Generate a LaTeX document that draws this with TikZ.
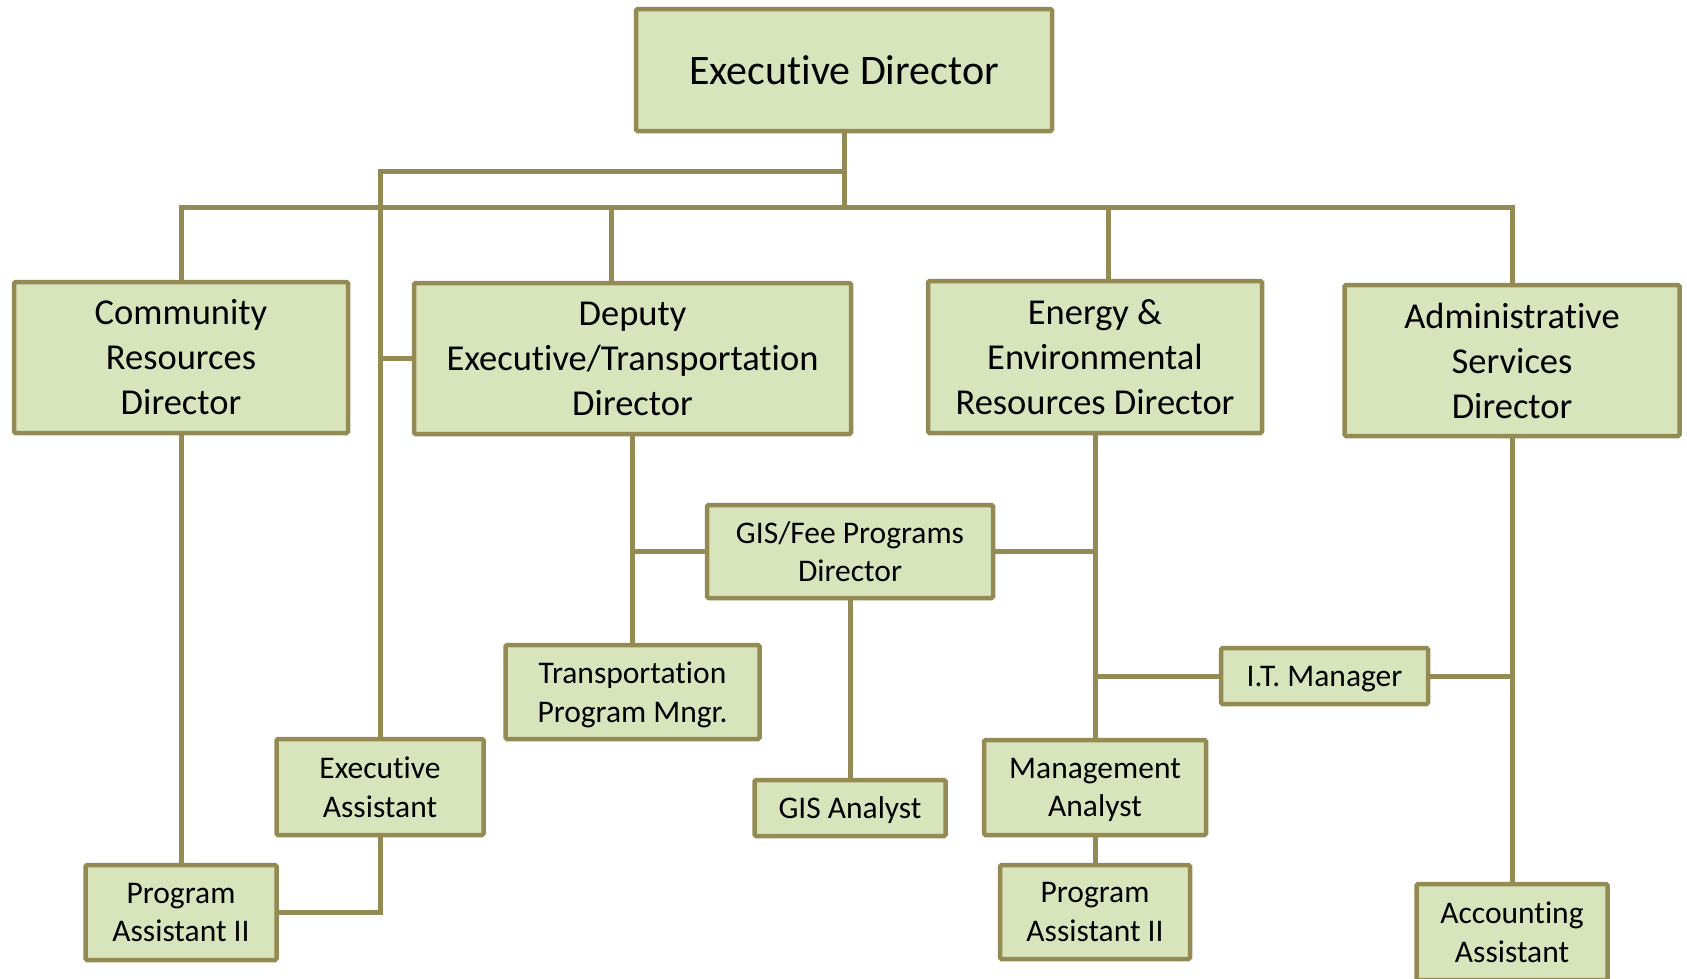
\documentclass[tikz,border=0pt]{standalone}
\usepackage{fontspec}
\setmainfont{Carlito}[Ligatures={NoCommon,NoRequired,NoContextual,NoRare}]
\usetikzlibrary{calc}
\definecolor{boxfill}{HTML}{D8E4BC}
\definecolor{olive}{HTML}{948A54}
% keep "t" and "i" as separate glyphs
\newcommand\tisep{t\kern0pt i}
\tikzset{
  unit/.style={draw=olive, fill=boxfill, line width=4.5pt, rounded corners=1.5pt,
    align=center, inner sep=0pt, text=black},
  top/.style={unit, font=\fontsize{42}{50}\selectfont},
  mid/.style={unit, font=\fontsize{36.5}{45}\selectfont},
  low/.style={unit, font=\fontsize{31.5}{38.5}\selectfont, text depth=0pt},
  link/.style={draw=olive, line width=5pt}
}
\begin{document}
\begin{tikzpicture}[x=1pt, y=-1pt]
\useasboundingbox (0,0) rectangle (1687,978);

% top level
\node[top, minimum width=416pt, minimum height=122pt] (ed) at (844,70) {Executive Director};

% directors
\node[mid, minimum width=334pt, minimum height=151pt] (crd) at (181,357.5) {Community\\Resources\\Director};
\node[mid, minimum width=437pt, minimum height=151pt] (dep) at (632.5,358.5) {Deputy\\Executive/Transporta\tisep on\\Director};
\node[mid, minimum width=334pt, minimum height=152pt] (eer) at (1095,357) {Energy \&\\Environmental\\Resources Director};
\node[mid, minimum width=335pt, minimum height=151pt] (asd) at (1512,360.5) {Administra\tisep ve\\Services\\Director};

% staff
\node[low, minimum width=286pt, minimum height=93pt] (gis) at (850,551.5) {GIS/Fee Programs\\Director};
\node[low, minimum width=254pt, minimum height=94pt] (tpm) at (632.5,692) {Transporta\tisep on\\Program Mngr.};
\node[low, minimum width=191pt, minimum height=56pt] (gisa) at (850,808) {GIS Analyst};
\node[low, minimum width=207pt, minimum height=96pt] (ea) at (380,787) {Executive\\Assistant};
\node[low, minimum width=191pt, minimum height=95pt] (pa1) at (181,912.5) {Program\\Assistant II};
\node[low, minimum width=222pt, minimum height=95pt] (ma) at (1095,787.5) {Management\\Analyst};
\node[low, minimum width=190pt, minimum height=94pt] (pa2) at (1095,912) {Program\\Assistant II};
\node[low, minimum width=207pt, minimum height=56pt] (itm) at (1324.5,676) {I.T. Manager};
\node[low, minimum width=191pt, minimum height=96pt] (acc) at (1512,932) {Accounting\\Assistant};

% junction points
\coordinate (bus) at (844,207);
\coordinate (eatap) at (380,171);
\coordinate (depstem) at (611,207);
\coordinate (eerstem) at (1108,207);

% connectors
\draw[link] (ed.south) -- (bus);
\draw[link] (crd.north) |- (asd.north |- bus) -- (asd.north);
\draw[link] (depstem) -- (depstem |- dep.north);
\draw[link] (eerstem) -- (eerstem |- eer.north);
\draw[link] (ed.south |- eatap) -- (eatap) -- (ea.north);
\draw[link] (ea.north |- dep.west) -- (dep.west);
\draw[link] (crd.south) -- (pa1.north);
\draw[link] (ea.south) |- (pa1.east);
\draw[link] (dep.south) -- (tpm.north);
\draw[link] (gis.west) -- (gis.west -| dep.south);
\draw[link] (gis.south) -- (gisa.north);
\draw[link] (eer.south) -- (ma.north);
\draw[link] (gis.east) -- (gis.east -| eer.south);
\draw[link] (itm.west) -- (itm.west -| eer.south);
\draw[link] (ma.south) -- (pa2.north);
\draw[link] (asd.south) -- (acc.north);
\draw[link] (itm.east) -- (itm.east -| asd.south);
\end{tikzpicture}
\end{document}
